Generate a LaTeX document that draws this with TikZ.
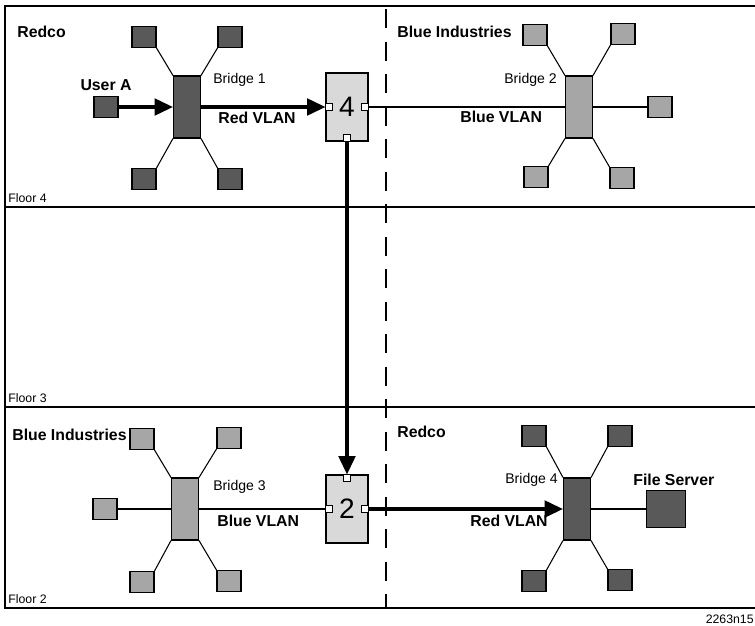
\documentclass[tikz,border=0pt]{standalone}
\usepackage{fontspec}
\setmainfont{Liberation Sans}
\usetikzlibrary{arrows.meta}

\definecolor{darkgrey}{HTML}{595959}
\definecolor{midgrey}{HTML}{A6A6A6}
\definecolor{lightgrey}{HTML}{D9D9D9}

\begin{document}
\begin{tikzpicture}[x=0.02cm, y=-0.02cm,
        darkdev/.style={rectangle, draw, line width=0.6pt, fill=darkgrey, minimum width=0.48cm, minimum height=0.42cm, inner sep=0},
        greydev/.style={rectangle, draw, line width=0.6pt, fill=midgrey, minimum width=0.48cm, minimum height=0.42cm, inner sep=0},
        darkbridge/.style={rectangle, draw, line width=0.6pt, fill=darkgrey, minimum width=0.54cm, minimum height=1.24cm, inner sep=0},
        greybridge/.style={rectangle, draw, line width=0.6pt, fill=midgrey, minimum width=0.54cm, minimum height=1.24cm, inner sep=0},
        vlanbox/.style={rectangle, draw, line width=0.6pt, fill=lightgrey, minimum width=0.84cm, minimum height=1.36cm, inner sep=0, font=\fontsize{16}{16}\selectfont},
        port/.style={rectangle, draw, line width=0.5pt, fill=white, minimum width=0.14cm, minimum height=0.14cm, inner sep=0},
        lbl/.style={inner sep=0, anchor=west, font=\fontsize{8}{9}\selectfont},
        boldlbl/.style={inner sep=0, anchor=west, font=\fontsize{9}{10}\selectfont\bfseries},
        floorlbl/.style={inner sep=0, anchor=west, font=\fontsize{7}{8}\selectfont},
        thin_link/.style={line width=0.6pt},
        thick_link/.style={line width=1.8pt, -{Triangle[length=10.5pt, width=9.5pt]}}
    ]
        \useasboundingbox (0,0) rectangle (755,626);

        % Floors and building frame
        \draw[line width=1pt] (755,6) -- (5,6) -- (5,608) -- (755,608);
        \draw[line width=1pt] (5,207) -- (755,207);
        \draw[line width=1pt] (5,407) -- (755,407);
        \draw[line width=1pt, dash pattern=on 11pt off 7.5pt] (386,9) -- (386,608);
        \node[floorlbl] (floor4) at (8,198) {Floor 4};
        \node[floorlbl] (floor3) at (8,398) {Floor 3};
        \node[floorlbl] (floor2) at (8,599) {Floor 2};
        \node[floorlbl, anchor=east] (figid) at (754,619) {2263n15};

        % Floor 4: Redco, bridge 1
        \node[boldlbl] (redco_top) at (17,32) {Redco};
        \node[darkbridge] (b1) at (187,107) {};
        \node[darkdev] (b1_tl) at (144,37) {};
        \node[darkdev] (b1_tr) at (230,37) {};
        \node[darkdev] (b1_bl) at (144,179) {};
        \node[darkdev] (b1_br) at (230,179) {};
        \node[darkdev] (user_a) at (106,107) {};
        \node[boldlbl, anchor=center] (user_a_lbl) at (106,85) {User A};
        \node[lbl] (b1_lbl) at (213,80) {Bridge 1};
        \node[boldlbl] (red_top) at (218,118) {Red VLAN};
        \draw[thin_link] (b1.north west) -- (b1_tl.south east);
        \draw[thin_link] (b1.north east) -- (b1_tr.south west);
        \draw[thin_link] (b1.south west) -- (b1_bl.north east);
        \draw[thin_link] (b1.south east) -- (b1_br.north west);

        % Floor 4: switch 4
        \node[vlanbox] (sw4) at (347,107) {4};
        \node[port, anchor=west] (sw4_w) at (sw4.west) {};
        \node[port, anchor=east] (sw4_e) at (sw4.east) {};
        \node[port, anchor=south] (sw4_s) at (sw4.south) {};
        \draw[thick_link] (user_a) -- (b1);
        \draw[thick_link] (b1) -- (sw4_w);

        % Floor 4: Blue Industries, bridge 2
        \node[boldlbl] (blue_top) at (397,32) {Blue Industries};
        \node[greybridge] (b2) at (579,107) {};
        \node[greydev] (b2_tl) at (535,35) {};
        \node[greydev] (b2_tr) at (623,34) {};
        \node[greydev] (b2_r) at (660,107) {};
        \node[greydev] (b2_bl) at (536,177) {};
        \node[greydev] (b2_br) at (622,178) {};
        \node[lbl] (b2_lbl) at (504,80) {Bridge 2};
        \node[boldlbl] (bluevlan_top) at (460,117) {Blue VLAN};
        \draw[thin_link] (b2.north west) -- (b2_tl.south east);
        \draw[thin_link] (b2.north east) -- (b2_tr.south west);
        \draw[thin_link] (b2.south west) -- (b2_bl.north east);
        \draw[thin_link] (b2.south east) -- (b2_br.north west);
        \draw[thin_link] (b2) -- (b2_r);
        \draw[thin_link] (sw4_e) -- (b2);

        % Floor 2: Blue Industries, bridge 3
        \node[boldlbl] (blue_bot) at (12,435) {Blue Industries};
        \node[greybridge] (b3) at (185,509) {};
        \node[greydev] (b3_tl) at (142,439) {};
        \node[greydev] (b3_tr) at (229,438) {};
        \node[greydev] (b3_l) at (105,509) {};
        \node[greydev] (b3_bl) at (142,582) {};
        \node[greydev] (b3_br) at (229,581) {};
        \node[lbl] (b3_lbl) at (213,487) {Bridge 3};
        \node[boldlbl] (bluevlan_bot) at (217,521) {Blue VLAN};
        \draw[thin_link] (b3.north west) -- (b3_tl.south east);
        \draw[thin_link] (b3.north east) -- (b3_tr.south west);
        \draw[thin_link] (b3.south west) -- (b3_bl.north east);
        \draw[thin_link] (b3.south east) -- (b3_br.north west);
        \draw[thin_link] (b3_l) -- (b3);

        % Floor 2: switch 2
        \node[vlanbox] (sw2) at (347,509) {2};
        \node[port, anchor=west] (sw2_w) at (sw2.west) {};
        \node[port, anchor=east] (sw2_e) at (sw2.east) {};
        \node[port, anchor=north] (sw2_n) at (sw2.north) {};
        \draw[thin_link] (b3) -- (sw2_w);
        \draw[thick_link] (sw4_s) -- (sw2_n);

        % Floor 2: Redco, bridge 4
        \node[boldlbl] (redco_bot) at (397,432) {Redco};
        \node[darkbridge] (b4) at (577,509) {};
        \node[darkdev] (b4_tl) at (534,436) {};
        \node[darkdev] (b4_tr) at (620,436) {};
        \node[darkdev] (b4_bl) at (534,581) {};
        \node[darkdev] (b4_br) at (620,580) {};
        \node[darkdev, minimum width=0.78cm, minimum height=0.74cm] (server) at (666,509) {};
        \node[lbl] (b4_lbl) at (505,480) {Bridge 4};
        \node[boldlbl] (server_lbl) at (633,480) {File Server};
        \node[boldlbl] (red_bot) at (470,521) {Red VLAN};
        \draw[thin_link] (b4.north west) -- (b4_tl.south east);
        \draw[thin_link] (b4.north east) -- (b4_tr.south west);
        \draw[thin_link] (b4.south west) -- (b4_bl.north east);
        \draw[thin_link] (b4.south east) -- (b4_br.north west);
        \draw[thin_link] (b4) -- (server);
        \draw[thick_link] (sw2_e) -- (b4);

    \end{tikzpicture}
\end{document}
